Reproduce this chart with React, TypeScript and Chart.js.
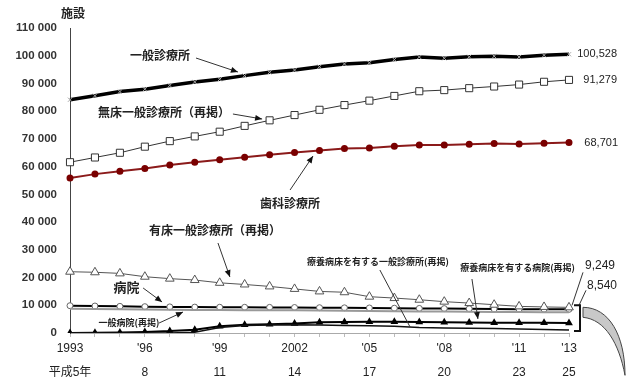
import React, { useEffect, useRef } from 'react';
import { Chart, registerables } from 'chart.js';

Chart.register(...registerables);

const years = ['1993','1994','1995','1996','1997','1998','1999','2000','2001','2002','2003','2004','2005','2006','2007','2008','2009','2010','2011','2012','2013'];
const yearLabels = ['1993','','',"'96",'','',"'99",'','','2002','','',"'05",'','',"'08",'','',"'11",'',"'13"];
const eraLabels = ['平成5年','','','8','','','11','','','14','','','17','','','20','','','23','','25'];

const generalClinics = [84128,85588,87069,87909,89292,90556,91500,92824,94019,94819,96050,97051,97442,98609,99532,99083,99635,99824,99547,100152,100528];
const noBedClinics = [61600,63300,65000,67200,69200,70900,72600,74700,76700,78600,80500,82200,83800,85500,87200,87600,88300,88900,89600,90600,91279];
const dentalClinics = [55900,57300,58300,59357,60600,61600,62484,63400,64300,65073,65828,66557,66732,67392,67798,67779,68097,68384,68156,68474,68701];
const bedClinics = [22100,21900,21500,20300,19600,19100,18100,17500,16800,15900,15000,14700,13100,12600,12000,11300,10800,10200,9600,9400,9249];
const hospitals = [9844,9731,9606,9490,9413,9333,9286,9266,9239,9187,9122,9077,9026,8943,8862,8794,8739,8670,8605,8565,8540];
const generalHospitals = [8780,8680,8560,8450,8380,8310,8260,8240,8210,8160,8090,8040,7950,7870,7780,7710,7650,7590,7530,7490,7470];
const ltcHospitals = [0,100,200,400,700,1200,2400,3000,3200,3400,3900,4000,4100,4100,4000,3900,3800,3700,3700,3700,3600];
const ltcClinics = [0,0,0,0,0,300,2000,2700,2900,3000,2900,2700,2600,2400,2000,1800,1700,1600,1400,1300,1100];

const NUM = "'Liberation Sans', Arial, 'Noto Sans CJK JP', sans-serif";
const JP = "'Noto Sans CJK JP', 'Liberation Sans', sans-serif";

// annotation: text, text centre (x index, value), arrow from -> to (x index, value), font size, head
const annotations = [
  { text: '一般診療所', tx: 3.61, tv: 100250, fx: 5.05, fv: 99170, ax: 6.73, av: 94120, size: 12, head: true },
  { text: '無床一般診療所（再掲）', tx: 3.77, tv: 79700, fx: 6.53, fv: 78980, ax: 7.7, av: 77170, size: 12, head: true },
  { text: '歯科診療所', tx: 8.82, tv: 46880, fx: 8.82, fv: 51570, ax: 9.74, av: 63830, size: 12, head: true },
  { text: '有床一般診療所（再掲）', tx: 5.81, tv: 37140, fx: 5.93, fv: 32460, ax: 6.41, av: 20190, size: 12, head: true },
  { text: '病院', tx: 2.26, tv: 16590, fx: 2.93, fv: 16230, ax: 3.69, av: 11180, size: 13, head: true },
  { text: '一般病院(再掲)', tx: 2.36, tv: 3600, fx: 3.57, fv: 3600, ax: 4.53, av: 7570, size: 9, head: true },
  { text: '療養病床を有する一般診療所(再掲)', tx: 12.34, tv: 25600, fx: 12.42, fv: 22720, ax: 13.63, av: 2160, size: 9, head: false },
  { text: '療養病床を有する病院(再掲)', tx: 17.94, tv: 23440, fx: 16.11, fv: 19470, ax: 16.35, av: 5050, size: 9, head: true },
];

const fmt = (n: number) => n.toString().replace(/\B(?=(\d{3})+(?!\d))/g, ',');

const overlay = {
  id: 'overlay',
  afterDraw(chart: any) {
    const { ctx, scales, chartArea } = chart;
    const xs = scales.x, ys = scales.y;
    const px = (i: number) => xs.getPixelForValue(i);
    const py = (v: number) => ys.getPixelForValue(v);
    ctx.save();
    // unit title
    ctx.fillStyle = '#222';
    ctx.font = `bold 12px ${JP}`;
    ctx.textAlign = 'center';
    ctx.textBaseline = 'middle';
    ctx.fillText('施設', chartArea.left + 3, 13);

    // annotations
    for (const a of annotations) {
      ctx.font = `bold ${a.size}px ${JP}`;
      ctx.fillStyle = '#222';
      ctx.textAlign = 'center';
      ctx.fillText(a.text, px(a.tx), py(a.tv));
      const x1 = px(a.fx), y1 = py(a.fv), x2 = px(a.ax), y2 = py(a.av);
      ctx.strokeStyle = '#333';
      ctx.lineWidth = 1;
      ctx.beginPath();
      ctx.moveTo(x1, y1);
      ctx.lineTo(x2, y2);
      ctx.stroke();
      if (a.head) {
        const ang = Math.atan2(y2 - y1, x2 - x1);
        const L = 7, W = 3;
        ctx.fillStyle = '#111';
        ctx.beginPath();
        ctx.moveTo(x2, y2);
        ctx.lineTo(x2 - L * Math.cos(ang) + W * Math.sin(ang), y2 - L * Math.sin(ang) - W * Math.cos(ang));
        ctx.lineTo(x2 - L * Math.cos(ang) - W * Math.sin(ang), y2 - L * Math.sin(ang) + W * Math.cos(ang));
        ctx.closePath();
        ctx.fill();
      }
    }

    // end value labels
    const last = years.length - 1;
    const R = chartArea.right;
    ctx.font = `11px ${NUM}`;
    ctx.fillStyle = '#222';
    ctx.textAlign = 'right';
    ctx.fillText(fmt(generalClinics[last]), R + 48, py(generalClinics[last]));
    ctx.fillText(fmt(noBedClinics[last]), R + 48, py(noBedClinics[last]));
    ctx.fillText(fmt(dentalClinics[last]), R + 49, py(dentalClinics[last]));
    ctx.font = `12px ${NUM}`;
    ctx.textAlign = 'left';
    ctx.fillText(fmt(bedClinics[last]), R + 16, py(bedClinics[last]) - 42);
    ctx.fillText(fmt(hospitals[last]), R + 18, py(hospitals[last]) - 24);

    // leader lines
    ctx.strokeStyle = '#333';
    ctx.lineWidth = 1;
    ctx.beginPath();
    ctx.moveTo(R + 14, py(bedClinics[last]) - 35);
    ctx.lineTo(px(last) + 3, py(bedClinics[last]) - 2);
    ctx.moveTo(R + 17, py(hospitals[last]) - 19);
    ctx.lineTo(R + 10, py(hospitals[last]) - 4);
    ctx.stroke();
    // bracket
    const bt = py(hospitals[last]) - 4, bb = py(0) - 2;
    ctx.lineWidth = 2;
    ctx.strokeStyle = '#111';
    ctx.beginPath();
    ctx.moveTo(R + 5, bt);
    ctx.lineTo(R + 11, bt);
    ctx.lineTo(R + 11, bb);
    ctx.lineTo(R + 5, bb);
    ctx.stroke();

    // curved grey pointer
    const ox = R, oy = bt;
    ctx.beginPath();
    ctx.moveTo(ox + 14, oy + 2);
    ctx.bezierCurveTo(ox + 40, oy + 2, ox + 56, oy + 30, ox + 56, oy + 70);
    ctx.bezierCurveTo(ox + 50, oy + 38, ox + 36, oy + 14, ox + 14, oy + 12);
    ctx.closePath();
    ctx.fillStyle = '#c8c8c8';
    ctx.fill();
    ctx.lineWidth = 1;
    ctx.strokeStyle = '#444';
    ctx.stroke();
    ctx.restore();
  },
};

export default function App() {
  const ref = useRef<HTMLCanvasElement>(null);
  useEffect(() => {
    document.body.style.margin = '0';
    const chart = new Chart(ref.current!, {
      type: 'line',
      data: {
        labels: years,
        datasets: [
          { label: '一般診療所', data: generalClinics, borderColor: '#000', borderWidth: 3.5, pointStyle: 'crossRot', pointRadius: 3, pointBorderColor: '#aaa', pointBorderWidth: 1, pointBackgroundColor: '#fff' },
          { label: '無床一般診療所（再掲）', data: noBedClinics, borderColor: '#333', borderWidth: 1, pointStyle: 'rect', pointRadius: 5, pointBackgroundColor: '#fff', pointBorderColor: '#333', pointBorderWidth: 1 },
          { label: '歯科診療所', data: dentalClinics, borderColor: '#8b1a1a', borderWidth: 2, pointRadius: 2.5, pointBackgroundColor: '#7a0000', pointBorderColor: '#7a0000' },
          { label: '有床一般診療所（再掲）', data: bedClinics, borderColor: '#555', borderWidth: 1, pointStyle: 'triangle', pointRadius: 5, pointBackgroundColor: '#fff', pointBorderColor: '#555', pointBorderWidth: 1 },
          { label: '一般病院(再掲)', data: generalHospitals, borderColor: '#999', borderWidth: 2, pointRadius: 0 },
          { label: '病院', data: hospitals, borderColor: '#000', borderWidth: 2, pointRadius: 3, pointBackgroundColor: '#fff', pointBorderColor: '#666', pointBorderWidth: 1 },
          { label: '療養病床を有する一般診療所(再掲)', data: ltcClinics, borderColor: '#111', borderWidth: 1.5, pointRadius: 0 },
          { label: '療養病床を有する病院(再掲)', data: ltcHospitals, borderColor: '#000', borderWidth: 2, pointStyle: 'triangle', pointRadius: 2.5, pointBackgroundColor: '#000', pointBorderColor: '#000' },
        ],
      },
      options: {
        animation: false,
        responsive: false,
        devicePixelRatio: 1,
        layout: { padding: { left: 0, right: 61, top: 28, bottom: 0 } },
        plugins: { legend: { display: false }, tooltip: { enabled: false } },
        elements: { line: { tension: 0 } },
        scales: {
          x: {
            type: 'category',
            offset: false,
            grid: { drawOnChartArea: false, drawTicks: true, tickLength: 4, color: '#bbb' },
            border: { color: '#aaa' },
            ticks: {
              autoSkip: false, maxRotation: 0, minRotation: 0, padding: 0, color: '#222',
              font: { family: NUM, size: 12, lineHeight: 2 },
              callback: (_v: any, i: number) => [yearLabels[i], eraLabels[i]],
            },
            afterFit: (s: any) => { s.height = 50; },
          },
          y: {
            min: 0, max: 110000,
            grid: { display: false, drawTicks: false },
            border: { color: '#444' },
            ticks: {
              stepSize: 10000, padding: 13, color: '#333',
              font: { family: NUM, size: 11.5, weight: 'bold' },
              callback: (v: any) => String(v).replace(/\B(?=(\d{3})+(?!\d))/g, ' '),
            },
            afterFit: (s: any) => { s.width = 70; },
          },
        },
      },
      plugins: [overlay],
    } as any);
    return () => chart.destroy();
  }, []);
  return (
    <div style={{ width: 630, height: 383, background: '#fff' }}>
      <canvas ref={ref} width={630} height={383} />
    </div>
  );
}
